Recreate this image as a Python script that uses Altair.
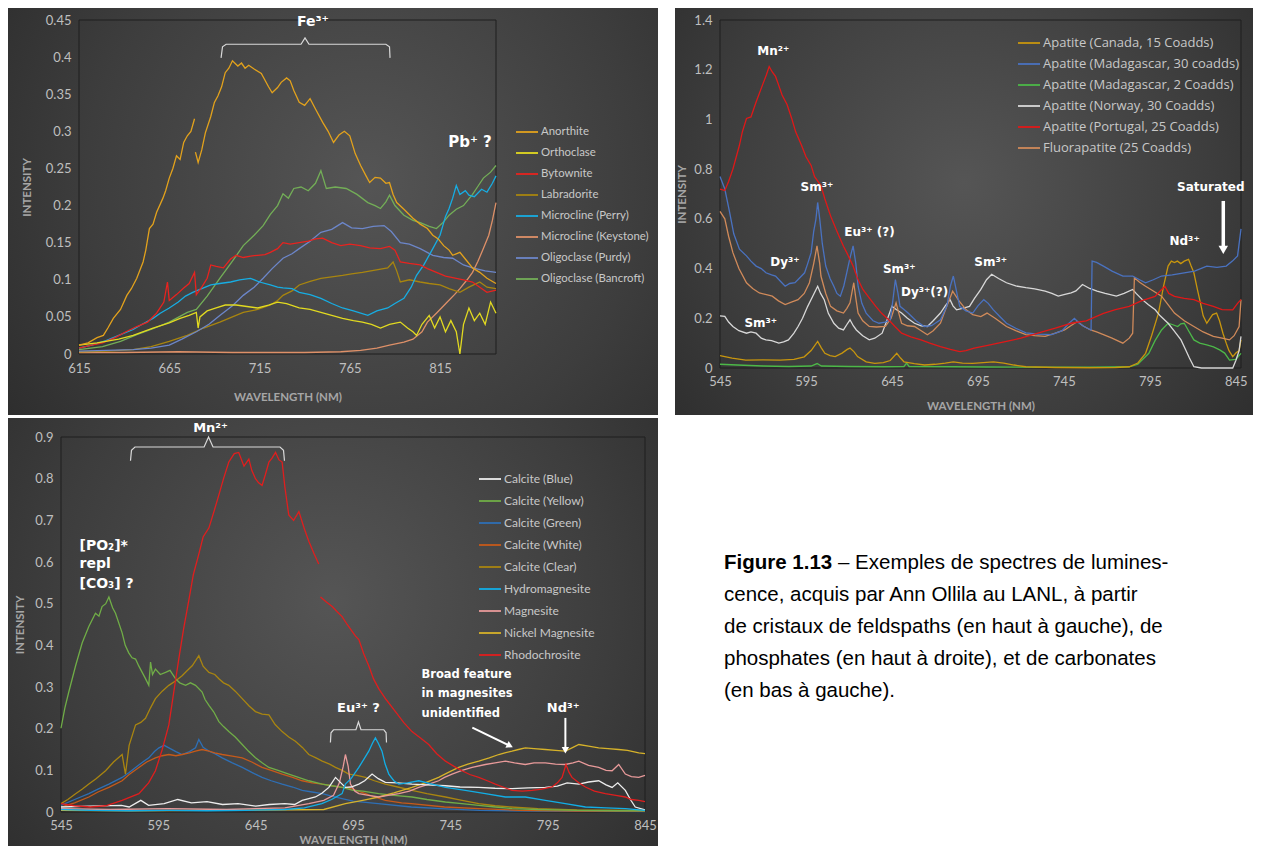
import altair as alt
import pandas as pd

LABEL_FONT = "Lato"
ANNOT_FONT = "DejaVu Sans"
CAPTION_FONT = "Liberation Sans"

# ======================= Panel 1 : feldspars =======================
P1_NAMES = ["Anorthite", "Orthoclase", "Bytownite", "Labradorite", "Microcline (Perry)",
            "Microcline (Keystone)", "Oligoclase (Purdy)", "Oligoclase (Bancroft)"]
P1_COLORS = ["#E3A21C", "#E2DA20", "#E8231F", "#A8850F", "#17ADE3", "#DE9068", "#6C86C9", "#73AE57"]
P1_DRAW = ["Microcline (Keystone)", "Labradorite", "Oligoclase (Purdy)", "Oligoclase (Bancroft)",
           "Microcline (Perry)", "Bytownite", "Orthoclase", "Anorthite"]
P1_X_TICKS = [615, 665, 715, 765, 815]
P1_Y_TICKS = [0, 0.05, 0.1, 0.15, 0.2, 0.25, 0.3, 0.35, 0.4, 0.45]

ANORTHITE_A = [(615, 0.012), (620, 0.015), (625, 0.022), (628.5, 0.025), (631, 0.035), (634, 0.048), (638, 0.06),
               (641.5, 0.079), (644, 0.088), (647, 0.102), (650.5, 0.124), (652, 0.14), (654, 0.169), (656, 0.175),
               (658, 0.191), (661.5, 0.21), (663, 0.22), (665, 0.237), (667, 0.25), (669, 0.267), (671, 0.262),
               (673, 0.285), (675, 0.294), (677, 0.30), (679, 0.317)]
ANORTHITE_B = [(679.5, 0.272), (681, 0.258), (683, 0.275), (685, 0.298), (688, 0.32), (690, 0.339), (692, 0.348),
               (694, 0.36), (696, 0.379), (698, 0.385), (700, 0.395), (703, 0.388), (705, 0.392), (707, 0.385),
               (709, 0.389), (712, 0.384), (716, 0.378), (720, 0.36), (722, 0.352), (725, 0.359), (727, 0.366),
               (730, 0.372), (732, 0.368), (734, 0.355), (737, 0.339), (740, 0.335), (743, 0.344), (746, 0.33),
               (750, 0.312), (753, 0.30), (756, 0.285), (759, 0.295), (762, 0.30), (765, 0.294), (768, 0.27),
               (771, 0.254), (774, 0.24), (776, 0.231), (779, 0.238), (782, 0.237), (785, 0.23), (787, 0.231),
               (789, 0.215), (791, 0.204), (795, 0.195), (800, 0.183), (804, 0.175), (808, 0.169), (811, 0.16),
               (814, 0.155), (817, 0.146), (820, 0.14), (822, 0.133), (826, 0.137), (829, 0.128), (833, 0.116),
               (837, 0.11), (841, 0.102), (846, 0.095)]
ORTHOCLASE = [(615, 0.012), (625, 0.015), (637, 0.02), (645, 0.025), (656, 0.035), (665, 0.042), (671, 0.048),
              (676, 0.052), (680, 0.056), (681, 0.035), (682, 0.05), (686, 0.058), (691, 0.062), (696, 0.066),
              (702, 0.066), (708, 0.064), (714, 0.062), (720, 0.066), (725, 0.07), (730, 0.068), (737, 0.062),
              (743, 0.06), (749, 0.056), (755, 0.052), (761, 0.048), (767, 0.045), (772, 0.043), (777, 0.04),
              (782, 0.035), (787, 0.04), (793, 0.043), (797, 0.035), (800, 0.03), (802, 0.025), (805, 0.04),
              (809, 0.052), (812, 0.035), (815, 0.05), (818, 0.03), (821, 0.045), (824, 0.03), (826, 0.0),
              (828, 0.04), (831, 0.062), (834, 0.045), (837, 0.055), (840, 0.04), (843, 0.07), (846, 0.055)]
BYTOWNITE = [(615, 0.008), (622, 0.012), (628, 0.015), (635, 0.022), (641, 0.03), (647, 0.037), (653, 0.043),
             (658, 0.055), (662, 0.07), (664, 0.097), (665, 0.072), (669, 0.08), (673, 0.089), (676, 0.095),
             (679, 0.11), (680, 0.08), (683, 0.09), (686, 0.102), (688, 0.12), (691, 0.118), (695, 0.116),
             (699, 0.128), (702, 0.133), (706, 0.13), (710, 0.132), (714, 0.133), (718, 0.134), (721, 0.137),
             (725, 0.142), (728, 0.15), (732, 0.148), (737, 0.15), (742, 0.152), (746, 0.155), (750, 0.156),
             (755, 0.15), (760, 0.146), (765, 0.148), (771, 0.146), (776, 0.143), (782, 0.142), (787, 0.145),
             (790, 0.14), (793, 0.124), (798, 0.122), (804, 0.12), (808, 0.115), (813, 0.11), (818, 0.105),
             (824, 0.102), (828, 0.1), (833, 0.097), (837, 0.09), (841, 0.083), (846, 0.086)]
LABRADORITE = [(615, 0.003), (630, 0.004), (645, 0.006), (655, 0.01), (665, 0.017), (675, 0.025), (684, 0.035),
               (693, 0.043), (700, 0.05), (706, 0.056), (714, 0.06), (721, 0.066), (725, 0.072), (728, 0.079),
               (733, 0.085), (737, 0.093), (743, 0.098), (749, 0.102), (755, 0.104), (761, 0.106), (766, 0.108),
               (772, 0.11), (779, 0.113), (786, 0.116), (789, 0.124), (791, 0.112), (793, 0.097), (798, 0.1),
               (804, 0.097), (809, 0.095), (815, 0.093), (820, 0.088), (826, 0.083), (831, 0.09), (837, 0.097),
               (841, 0.09), (846, 0.088)]
MICROCLINE_PERRY = [(615, 0.008), (622, 0.012), (630, 0.018), (637, 0.025), (645, 0.033), (650, 0.04), (656, 0.048),
                    (660, 0.055), (665, 0.062), (670, 0.07), (674, 0.078), (678, 0.083), (683, 0.088), (688, 0.093),
                    (693, 0.095), (699, 0.097), (704, 0.1), (710, 0.102), (715, 0.097), (721, 0.093), (725, 0.09),
                    (728, 0.089), (733, 0.088), (737, 0.083), (743, 0.08), (749, 0.075), (755, 0.068), (761, 0.062),
                    (767, 0.058), (775, 0.052), (780, 0.058), (786, 0.062), (790, 0.068), (795, 0.075), (799, 0.09),
                    (802, 0.106), (806, 0.12), (811, 0.142), (815, 0.16), (818, 0.185), (820, 0.196), (822, 0.21),
                    (824, 0.227), (826, 0.215), (829, 0.22), (831, 0.214), (834, 0.212), (838, 0.222), (841, 0.218),
                    (844, 0.23), (846, 0.24)]
MICROCLINE_KEYSTONE = [(615, 0.002), (640, 0.002), (670, 0.003), (700, 0.002), (740, 0.002), (760, 0.003),
                       (771, 0.005), (780, 0.008), (787, 0.012), (795, 0.016), (800, 0.02), (805, 0.03), (808, 0.043),
                       (813, 0.055), (819, 0.07), (823, 0.08), (826, 0.088), (830, 0.1), (833, 0.11), (836, 0.125),
                       (839, 0.142), (842, 0.16), (844, 0.18), (846, 0.204)]
OLIGOCLASE_PURDY = [(615, 0.004), (630, 0.005), (645, 0.006), (655, 0.008), (665, 0.012), (672, 0.02), (680, 0.03),
                    (687, 0.04), (693, 0.052), (700, 0.065), (706, 0.079), (712, 0.09), (717, 0.102), (722, 0.115),
                    (728, 0.129), (733, 0.135), (737, 0.142), (743, 0.152), (749, 0.164), (755, 0.168), (761, 0.177),
                    (766, 0.17), (772, 0.169), (778, 0.172), (784, 0.173), (788, 0.165), (793, 0.15), (798, 0.148),
                    (804, 0.142), (811, 0.133), (817, 0.13), (822, 0.129), (828, 0.12), (833, 0.116), (840, 0.112),
                    (846, 0.11)]
OLIGOCLASE_BANCROFT = [(615, 0.006), (628, 0.01), (638, 0.017), (647, 0.026), (656, 0.034), (665, 0.043), (675, 0.056),
                       (680, 0.06), (686, 0.078), (693, 0.102), (700, 0.125), (706, 0.146), (712, 0.16), (717, 0.173),
                       (721, 0.188), (725, 0.2), (728, 0.216), (731, 0.21), (734, 0.223), (738, 0.225), (742, 0.22),
                       (746, 0.23), (749, 0.247), (752, 0.223), (757, 0.225), (763, 0.223), (769, 0.215), (775, 0.204),
                       (779, 0.2), (782, 0.196), (785, 0.205), (787, 0.214), (790, 0.2), (795, 0.187), (800, 0.18),
                       (804, 0.177), (809, 0.172), (813, 0.169), (817, 0.178), (820, 0.187), (824, 0.195), (828, 0.2),
                       (833, 0.215), (836, 0.226), (839, 0.237), (843, 0.245), (846, 0.254)]
P1_SERIES = {"Anorthite": [ANORTHITE_A, ANORTHITE_B], "Orthoclase": [ORTHOCLASE], "Bytownite": [BYTOWNITE],
             "Labradorite": [LABRADORITE], "Microcline (Perry)": [MICROCLINE_PERRY],
             "Microcline (Keystone)": [MICROCLINE_KEYSTONE], "Oligoclase (Purdy)": [OLIGOCLASE_PURDY],
             "Oligoclase (Bancroft)": [OLIGOCLASE_BANCROFT]}
P1_CENTER_TEXT = [("Fe³⁺", 744.6, 0.4476, 14), ("Pb⁺ ?", 831.6, 0.285, 15)]
P1_BRACKETS = [[(693.7, 0.399), (694.5, 0.414), (696.5, 0.4173), (738, 0.4173), (740.2, 0.426), (742.4, 0.4173),
                (785, 0.4173), (787, 0.414), (787.3, 0.399)]]

# ======================= Panel 2 : apatites =======================
P2_NAMES = ["Apatite (Canada, 15 Coadds)", "Apatite (Madagascar, 30 coadds)", "Apatite (Madagascar, 2 Coadds)",
            "Apatite (Norway, 30 Coadds)", "Apatite (Portugal, 25 Coadds)", "Fluorapatite (25 Coadds)"]
P2_COLORS = ["#C8960E", "#4A72C0", "#4CB848", "#D8D8D8", "#E01818", "#D08A5A"]
P2_DRAW = ["Apatite (Madagascar, 2 Coadds)", "Apatite (Canada, 15 Coadds)", "Apatite (Norway, 30 Coadds)",
           "Fluorapatite (25 Coadds)", "Apatite (Madagascar, 30 coadds)", "Apatite (Portugal, 25 Coadds)"]
P2_X_TICKS = [545, 595, 645, 695, 745, 795, 845]
P2_Y_TICKS = [0, 0.2, 0.4, 0.6, 0.8, 1, 1.2, 1.4]

PORTUGAL = [(545, 0.72), (547.8, 0.714), (550, 0.75), (552.5, 0.80), (556.3, 0.896), (558, 0.95), (560.4, 1.004),
            (563, 1.01), (566, 1.07), (569.8, 1.14), (572, 1.18), (573.6, 1.213), (575.5, 1.19), (577.3, 1.173),
            (579, 1.14), (581.1, 1.098), (584, 1.06), (586.7, 1.004), (589, 0.95), (592.4, 0.896), (595, 0.85),
            (598, 0.815), (600, 0.77), (603.7, 0.734), (606, 0.68), (609.3, 0.612), (613, 0.55), (616.8, 0.49),
            (619, 0.46), (622.4, 0.41), (625, 0.36), (628.1, 0.316), (632, 0.28), (635.6, 0.248), (639, 0.22),
            (643.1, 0.194), (647, 0.165), (650.6, 0.14), (656, 0.125), (661.9, 0.113), (667, 0.1), (673.2, 0.086),
            (679, 0.075), (684.4, 0.066), (688, 0.07), (692.8, 0.08), (700, 0.09), (711.6, 0.107), (720, 0.12),
            (730.4, 0.141), (740, 0.16), (749.2, 0.18), (758, 0.19), (768, 0.22), (775, 0.235), (783, 0.248),
            (790, 0.27), (798, 0.288), (801, 0.31), (803.7, 0.329), (806, 0.30), (809.3, 0.288), (815, 0.28),
            (820.6, 0.275), (826, 0.26), (831.9, 0.248), (837, 0.235), (843.2, 0.234), (846, 0.26), (848, 0.275)]
MADAGASCAR_30 = [(545, 0.77), (547.8, 0.72), (550.6, 0.626), (553, 0.54), (556.3, 0.478), (560.4, 0.451), (563, 0.43),
                 (566, 0.41), (569, 0.40), (571.7, 0.383), (575, 0.375), (577.3, 0.370), (580, 0.35), (582.9, 0.329),
                 (585.5, 0.34), (588.6, 0.343), (591, 0.36), (594.2, 0.383), (596, 0.42), (598, 0.464), (599.5, 0.55),
                 (600.8, 0.599), (601.8, 0.666), (603, 0.60), (604.5, 0.50), (606.5, 0.41), (609, 0.36),
                 (611.2, 0.329), (613, 0.30), (615, 0.289), (617, 0.33), (618.7, 0.383), (620.5, 0.44),
                 (622.4, 0.491), (624, 0.42), (625.3, 0.329), (627.5, 0.26), (630, 0.221), (634, 0.19),
                 (637.5, 0.18), (641, 0.185), (644, 0.194), (645.5, 0.27), (647, 0.356), (648.5, 0.30),
                 (649.7, 0.248), (652, 0.235), (654.4, 0.221), (659, 0.19), (663.8, 0.167), (668, 0.17),
                 (673.2, 0.194), (677, 0.25), (679, 0.33), (680.7, 0.37), (682.5, 0.31), (684.4, 0.248),
                 (688, 0.23), (692, 0.221), (695, 0.25), (698.4, 0.275), (701, 0.26), (704, 0.234), (708, 0.205),
                 (711.6, 0.18), (717, 0.16), (722.9, 0.141), (730, 0.136), (737.9, 0.134), (744, 0.15), (748, 0.18),
                 (751.1, 0.2), (754, 0.18), (756.7, 0.167), (760.8, 0.153), (761.4, 0.43), (764, 0.425),
                 (768, 0.41), (773, 0.39), (779.3, 0.37), (785, 0.37), (789, 0.355), (792.5, 0.343), (797, 0.355),
                 (801.8, 0.37), (808, 0.375), (815, 0.383), (821, 0.39), (828.1, 0.41), (834, 0.405),
                 (839.4, 0.41), (843, 0.43), (846, 0.451), (848, 0.56)]
FLUORAPATITE = [(545, 0.63), (547.8, 0.6), (550, 0.53), (552.5, 0.464), (556, 0.40), (560.4, 0.343), (564, 0.32),
                (567.9, 0.302), (572, 0.295), (575.4, 0.289), (579, 0.27), (582.9, 0.255), (586.5, 0.265),
                (590.4, 0.275), (594, 0.30), (597, 0.343), (599.5, 0.42), (601.4, 0.491), (603, 0.42),
                (603.7, 0.370), (606.5, 0.30), (609.3, 0.248), (613, 0.23), (616.8, 0.221), (618.8, 0.24),
                (620.6, 0.262), (622.8, 0.343), (624, 0.28), (625.3, 0.221), (628, 0.19), (631.8, 0.167),
                (636, 0.165), (641.2, 0.167), (644.5, 0.2), (647.4, 0.262), (649, 0.22), (650.6, 0.18),
                (654, 0.17), (658.1, 0.167), (662, 0.15), (665.6, 0.134), (669, 0.15), (673.2, 0.18), (677, 0.25),
                (680.3, 0.309), (684, 0.27), (688.2, 0.234), (692, 0.215), (696.7, 0.207), (700.3, 0.221),
                (705, 0.2), (711.6, 0.167), (717, 0.15), (722.9, 0.134), (728, 0.13), (734.1, 0.127), (740, 0.14),
                (745.4, 0.153), (749, 0.17), (752.9, 0.187), (756, 0.17), (760.5, 0.153), (764, 0.145),
                (768, 0.134), (773, 0.12), (779.3, 0.1), (783, 0.12), (785, 0.14), (786, 0.363), (789, 0.345),
                (792.5, 0.329), (797, 0.31), (801.8, 0.289), (805, 0.26), (809.3, 0.221), (815, 0.19),
                (820.6, 0.167), (826, 0.145), (831.9, 0.127), (837, 0.12), (841.3, 0.113), (844, 0.13),
                (846.9, 0.167), (848, 0.275)]
NORWAY = [(545, 0.21), (547.8, 0.208), (550, 0.185), (552.5, 0.167), (556, 0.15), (560.4, 0.14), (563, 0.145),
          (566, 0.14), (569, 0.12), (571.7, 0.113), (575, 0.11), (579.2, 0.1), (582, 0.105), (584.8, 0.113),
          (588, 0.14), (590.4, 0.167), (593, 0.2), (596, 0.248), (599, 0.29), (601.8, 0.329), (603.5, 0.30),
          (605.6, 0.275), (608, 0.22), (611.2, 0.18), (614, 0.16), (616.8, 0.153), (618.8, 0.175), (620.6, 0.194),
          (622.5, 0.17), (624.3, 0.153), (628, 0.13), (631.8, 0.113), (635, 0.12), (639.3, 0.14), (642, 0.19),
          (645, 0.248), (647.5, 0.235), (650.6, 0.221), (654, 0.2), (658.1, 0.18), (662, 0.17), (665.6, 0.167),
          (669, 0.19), (673.2, 0.221), (676, 0.25), (678.8, 0.275), (680.5, 0.25), (682.6, 0.234), (686, 0.24),
          (690.1, 0.248), (693, 0.28), (696.7, 0.316), (700, 0.355), (703, 0.377), (707, 0.36), (711.6, 0.343),
          (717, 0.33), (722.9, 0.323), (728, 0.318), (734.1, 0.309), (738, 0.3), (741.7, 0.289), (745, 0.295),
          (749.2, 0.302), (752, 0.31), (755.8, 0.336), (760, 0.32), (764.3, 0.309), (769, 0.3), (775.5, 0.289),
          (780, 0.3), (785, 0.316), (787, 0.3), (790.6, 0.275), (794, 0.255), (798.1, 0.234), (801, 0.21),
          (805.6, 0.18), (809, 0.15), (813.1, 0.113), (816, 0.07), (818, 0.04), (820.6, 0.005), (825, 0.0),
          (835, 0.0), (843.2, 0.0), (845, 0.03), (846.9, 0.07), (848, 0.127)]
CANADA = [(545, 0.05), (547.8, 0.046), (552, 0.04), (560, 0.032), (570, 0.033), (580, 0.032), (588, 0.035),
          (594, 0.045), (598, 0.07), (601.8, 0.107), (604, 0.08), (606, 0.059), (609, 0.05), (612, 0.046),
          (616, 0.06), (619, 0.075), (620.6, 0.08), (623, 0.065), (625, 0.046), (630, 0.025), (635, 0.019),
          (640, 0.022), (644, 0.03), (647.8, 0.059), (650, 0.04), (652, 0.025), (658, 0.018), (664, 0.012),
          (670, 0.015), (676, 0.02), (680.7, 0.025), (686, 0.02), (692, 0.019), (698, 0.022), (704, 0.025),
          (710, 0.02), (716, 0.012), (722.9, 0.005), (740, 0.002), (760, 0.001), (775, 0.002), (783, 0.005),
          (788, 0.02), (792.5, 0.059), (796, 0.13), (800, 0.221), (803, 0.33), (805.6, 0.41), (807.5, 0.43),
          (809.3, 0.424), (811, 0.43), (813, 0.42), (815, 0.43), (817.5, 0.437), (819, 0.41), (820.6, 0.383),
          (822.5, 0.32), (824.4, 0.262), (826, 0.21), (828.1, 0.18), (830, 0.2), (831.5, 0.215), (833.8, 0.221),
          (835.5, 0.19), (837.5, 0.14), (839.4, 0.1), (841, 0.07), (843.2, 0.046), (845, 0.06), (846.9, 0.07),
          (848, 0.113)]
MADAGASCAR_2 = [(545, 0.015), (555, 0.012), (570, 0.008), (585, 0.006), (598, 0.008), (601.5, 0.018), (604, 0.008),
                (620, 0.006), (640, 0.005), (652, 0.006), (653.5, 0.02), (655, 0.006), (680, 0.005), (700, 0.004),
                (730, 0.003), (760, 0.003), (783, 0.005), (788, 0.015), (794.4, 0.059), (798, 0.11),
                (801.8, 0.153), (805.6, 0.18), (808, 0.175), (811.2, 0.167), (813, 0.178), (815, 0.18),
                (817.5, 0.15), (820.6, 0.113), (824, 0.1), (828.1, 0.093), (832, 0.085), (835.6, 0.073),
                (838.5, 0.06), (841.3, 0.032), (845, 0.035), (848, 0.059)]
P2_SERIES = {"Apatite (Canada, 15 Coadds)": [CANADA], "Apatite (Madagascar, 30 coadds)": [MADAGASCAR_30],
             "Apatite (Madagascar, 2 Coadds)": [MADAGASCAR_2], "Apatite (Norway, 30 Coadds)": [NORWAY],
             "Apatite (Portugal, 25 Coadds)": [PORTUGAL], "Fluorapatite (25 Coadds)": [FLUORAPATITE]}
P2_CENTER_TEXT = [("Mn²⁺", 576, 1.275, 12), ("Sm³⁺", 601.4, 0.729, 12), ("Eu³⁺ (?)", 631.9, 0.547, 12),
                  ("Dy³⁺", 582.8, 0.425, 12), ("Sm³⁺", 649.3, 0.40, 12), ("Dy³⁺(?)", 664, 0.304, 12),
                  ("Sm³⁺", 568.7, 0.182, 12), ("Sm³⁺", 702.4, 0.425, 12), ("Nd³⁺", 815.2, 0.51, 12),
                  ("Saturated", 830.4, 0.729, 12)]
P2_ARROWS = [(837.7, 0.672, 837.7, 0.475, 180, 90, 3.5)]

# ======================= Panel 3 : carbonates =======================
P3_NAMES = ["Calcite (Blue)", "Calcite (Yellow)", "Calcite (Green)", "Calcite (White)", "Calcite (Clear)",
            "Hydromagnesite", "Magnesite", "Nickel Magnesite", "Rhodochrosite"]
P3_COLORS = ["#EDEDED", "#70AD47", "#2E6FB5", "#C65A1A", "#A98510", "#12AEE6", "#E89A9A", "#D6B22A", "#E01E1E"]
P3_DRAW = ["Calcite (Green)", "Calcite (White)", "Calcite (Clear)", "Calcite (Yellow)", "Nickel Magnesite",
           "Magnesite", "Calcite (Blue)", "Hydromagnesite", "Rhodochrosite"]
P3_X_TICKS = [545, 595, 645, 695, 745, 795, 845]
P3_Y_TICKS = [0, 0.1, 0.2, 0.3, 0.4, 0.5, 0.6, 0.7, 0.8, 0.9]

RHODO_A = [(545, 0.02), (552, 0.015), (560, 0.012), (568, 0.015), (576.4, 0.028), (585, 0.044), (590, 0.07),
           (593.5, 0.099), (597, 0.15), (600.4, 0.209), (603, 0.29), (605.5, 0.367), (608, 0.44), (610.7, 0.509),
           (613, 0.57), (615.8, 0.619), (618, 0.66), (621, 0.682), (623.5, 0.72), (626.1, 0.761), (628.5, 0.8),
           (631.2, 0.84), (634, 0.86), (636.3, 0.863), (639, 0.83), (641.5, 0.847), (643, 0.82), (644.9, 0.8),
           (646.5, 0.79), (648.3, 0.784), (650, 0.81), (651.8, 0.84), (653.5, 0.85), (655.2, 0.863), (657, 0.845),
           (658.6, 0.84), (660, 0.78), (662, 0.713), (664.5, 0.70), (667.2, 0.721), (670, 0.68), (672.3, 0.65),
           (675, 0.62), (677.4, 0.595)]
RHODO_B = [(678.3, 0.516), (681, 0.505), (684.3, 0.493), (687, 0.48), (689.4, 0.469), (692, 0.45), (696.3, 0.422),
           (698, 0.414), (700.5, 0.38), (703.1, 0.351), (705.5, 0.32), (708.2, 0.296), (712, 0.27), (716.8, 0.241),
           (721, 0.215), (725.3, 0.193), (729.5, 0.178), (733.9, 0.162), (738, 0.14), (742.5, 0.122),
           (746.7, 0.11), (751, 0.099), (755, 0.09), (759.6, 0.083), (764, 0.075), (768.1, 0.067), (772, 0.06),
           (776.7, 0.052), (782, 0.05), (787, 0.052), (792, 0.055), (797.2, 0.06), (800, 0.07), (802.4, 0.083),
           (804.4, 0.114), (806, 0.095), (807.5, 0.083), (811, 0.07), (814.4, 0.06), (819, 0.05), (824.6, 0.044),
           (830, 0.04), (834.9, 0.036), (838, 0.03), (841.8, 0.028), (845, 0.025)]
CALCITE_YELLOW = [(545, 0.201), (547, 0.25), (549, 0.288), (552.5, 0.351), (555.9, 0.406), (559.3, 0.445),
                  (562.7, 0.477), (564.5, 0.47), (566.1, 0.493), (568, 0.50), (569.6, 0.516), (571.5, 0.49),
                  (573, 0.477), (576.4, 0.43), (578, 0.40), (579.8, 0.382), (581.5, 0.37), (583.3, 0.367),
                  (585, 0.35), (586.7, 0.335), (588.4, 0.32), (590.1, 0.304), (591, 0.36), (592, 0.33),
                  (593.5, 0.343), (596, 0.33), (598.7, 0.335), (601, 0.34), (603.8, 0.32), (606, 0.31),
                  (609, 0.304), (611.5, 0.31), (614.1, 0.304), (617.5, 0.288), (619, 0.27), (621, 0.256),
                  (623.5, 0.24), (626.1, 0.217), (628.5, 0.205), (631.2, 0.193), (634.5, 0.18), (638.1, 0.162),
                  (641.5, 0.145), (644.9, 0.13), (648.3, 0.118), (651.8, 0.107), (656.5, 0.1), (662, 0.091),
                  (667, 0.083), (672.3, 0.075), (679.2, 0.067), (684, 0.063), (689.4, 0.059), (695, 0.052),
                  (700, 0.05), (708.2, 0.044), (716, 0.04), (725.3, 0.036), (733, 0.03), (742.5, 0.024),
                  (751, 0.02), (759.6, 0.016), (768, 0.012), (776.7, 0.008), (790, 0.006), (810, 0.004),
                  (830, 0.003), (845, 0.003)]
CALCITE_GREEN = [(545, 0.016), (552, 0.03), (559.3, 0.044), (564, 0.055), (569.6, 0.067), (576.4, 0.083), (580, 0.095),
                 (583.3, 0.107), (587, 0.12), (590.1, 0.13), (593, 0.145), (595.3, 0.154), (598, 0.16),
                 (600.4, 0.154), (604, 0.145), (607.2, 0.138), (611, 0.145), (614.1, 0.154), (615.8, 0.174),
                 (618, 0.155), (621, 0.146), (624, 0.14), (627.8, 0.13), (633, 0.118), (638.1, 0.107), (643, 0.095),
                 (648.3, 0.083), (653, 0.075), (658.6, 0.067), (664, 0.06), (668.9, 0.052), (674, 0.048),
                 (679.2, 0.044), (684, 0.038), (689.4, 0.032), (695, 0.026), (708, 0.02), (725, 0.012), (740, 0.008),
                 (760, 0.004), (790, 0.002), (845, 0.001)]
CALCITE_WHITE = [(545, 0.012), (552, 0.022), (559.3, 0.036), (564, 0.048), (569.6, 0.059), (576.4, 0.075), (580, 0.09),
                 (585, 0.107), (589, 0.12), (593.5, 0.13), (597, 0.135), (600.4, 0.138), (604, 0.135),
                 (607.2, 0.138), (611, 0.142), (614.1, 0.146), (617.5, 0.15), (621, 0.146), (624, 0.142),
                 (627.8, 0.138), (633, 0.134), (638.1, 0.13), (643, 0.12), (648.3, 0.107), (653, 0.1),
                 (658.6, 0.091), (664, 0.083), (668.9, 0.075), (674, 0.07), (679.2, 0.067), (684, 0.063),
                 (689.4, 0.059), (694, 0.056), (701.4, 0.044), (706, 0.036), (711.6, 0.028), (720, 0.022),
                 (725, 0.02), (742, 0.012), (760, 0.008), (780, 0.004), (810, 0.002), (845, 0.002)]
CALCITE_CLEAR = [(545, 0.02), (548.5, 0.03), (552.5, 0.044), (556, 0.055), (559.3, 0.067), (563, 0.08),
                 (567.9, 0.099), (572, 0.12), (576.4, 0.138), (578.1, 0.091), (580, 0.16), (583.3, 0.209),
                 (586, 0.215), (588.4, 0.225), (591, 0.25), (593.5, 0.272), (597, 0.29), (600.4, 0.304),
                 (604, 0.315), (607.2, 0.327), (610, 0.34), (612.4, 0.351), (615.8, 0.375), (618, 0.35),
                 (621, 0.335), (624, 0.33), (626.1, 0.32), (628.5, 0.31), (631.2, 0.304), (634.5, 0.29),
                 (638.1, 0.272), (641.5, 0.255), (644.9, 0.241), (648.3, 0.235), (651.8, 0.233), (655, 0.21),
                 (658.6, 0.193), (662, 0.18), (665.4, 0.17), (669, 0.155), (672.3, 0.138), (676, 0.13),
                 (679.2, 0.122), (683, 0.115), (686, 0.107), (689.5, 0.1), (692.8, 0.091), (697, 0.088),
                 (701.4, 0.083), (706, 0.075), (711.6, 0.067), (718, 0.06), (725.3, 0.052), (733, 0.044),
                 (742.5, 0.036), (751, 0.028), (759.6, 0.02), (768, 0.015), (776, 0.012), (790, 0.008),
                 (810, 0.005), (845, 0.004)]
CALCITE_BLUE = [(545, 0.012), (560, 0.014), (576, 0.016), (580, 0.012), (586, 0.028), (590, 0.016), (598, 0.02),
                (605, 0.03), (612, 0.022), (620, 0.025), (628, 0.018), (636, 0.02), (645, 0.014), (652, 0.018),
                (660, 0.02), (665, 0.018), (668.9, 0.028), (675.7, 0.036), (679, 0.045), (682.6, 0.059), (686, 0.083),
                (689.4, 0.067), (691.1, 0.059), (694, 0.06), (698, 0.067), (701, 0.075), (704.8, 0.091), (708, 0.08),
                (711.6, 0.071), (718, 0.07), (725.3, 0.067), (733, 0.065), (742.5, 0.063), (750, 0.06),
                (759.6, 0.059), (768, 0.057), (776.7, 0.056), (785, 0.058), (793.8, 0.059), (800, 0.062),
                (805, 0.07), (811, 0.067), (816, 0.072), (821.2, 0.075), (825, 0.065), (828.1, 0.059), (831, 0.07),
                (834.9, 0.052), (837.5, 0.03), (840, 0.012), (845, 0.005)]
HYDROMAGNESITE = [(545, 0.006), (560, 0.004), (580, 0.003), (600, 0.004), (620, 0.003), (640, 0.004), (660, 0.006),
                  (670, 0.01), (679, 0.02), (684, 0.03), (689.4, 0.044), (691.1, 0.067), (694, 0.08), (698, 0.107),
                  (701, 0.13), (703.1, 0.146), (705, 0.165), (706.5, 0.178), (708, 0.165), (709.9, 0.146),
                  (711.5, 0.115), (713.4, 0.091), (716, 0.075), (718.5, 0.067), (723, 0.07), (728.8, 0.075),
                  (735.6, 0.067), (742.5, 0.059), (752.7, 0.052), (763, 0.044), (773.3, 0.036), (783.5, 0.036),
                  (793.8, 0.028), (804.1, 0.02), (814.4, 0.012), (825, 0.01), (835, 0.008), (845, 0.004)]
MAGNESITE = [(545, 0.008), (570, 0.006), (600, 0.008), (630, 0.006), (660, 0.01), (672.3, 0.02), (680, 0.028),
             (685, 0.04), (688, 0.07), (690, 0.11), (691.1, 0.138), (692.5, 0.11), (693.7, 0.067), (696, 0.05),
             (698, 0.044), (703, 0.04), (708.2, 0.036), (713, 0.04), (718.5, 0.044), (724, 0.05), (728.8, 0.059),
             (734, 0.067), (739, 0.075), (742, 0.083), (745.9, 0.091), (751, 0.1), (756.2, 0.107), (763, 0.114),
             (768, 0.118), (773.3, 0.122), (778, 0.118), (783.5, 0.114), (788, 0.118), (793.8, 0.118),
             (799, 0.115), (804.1, 0.114), (808, 0.118), (811, 0.122), (816, 0.112), (821.2, 0.107), (825, 0.1),
             (828.1, 0.099), (831.5, 0.114), (834.9, 0.091), (838, 0.085), (841.8, 0.083), (845, 0.088)]
NICKEL_MAGNESITE = [(545, 0.004), (580, 0.003), (620, 0.004), (660, 0.005), (680, 0.006), (691.1, 0.02), (700, 0.028),
                    (708.2, 0.036), (716, 0.046), (725.3, 0.059), (732, 0.07), (739, 0.083), (744, 0.095),
                    (749.3, 0.107), (754, 0.115), (759.6, 0.122), (765, 0.13), (769.9, 0.138), (773, 0.142),
                    (776.7, 0.146), (780, 0.15), (783.5, 0.154), (788, 0.152), (793.8, 0.15), (799, 0.148),
                    (804.1, 0.146), (808, 0.155), (811, 0.162), (816, 0.158), (821.2, 0.154), (826, 0.152),
                    (831.5, 0.15), (836, 0.148), (841.8, 0.142), (845, 0.14)]
P3_SERIES = {"Calcite (Blue)": [CALCITE_BLUE], "Calcite (Yellow)": [CALCITE_YELLOW], "Calcite (Green)": [CALCITE_GREEN],
             "Calcite (White)": [CALCITE_WHITE], "Calcite (Clear)": [CALCITE_CLEAR], "Hydromagnesite": [HYDROMAGNESITE],
             "Magnesite": [MAGNESITE], "Nickel Magnesite": [NICKEL_MAGNESITE], "Rhodochrosite": [RHODO_A, RHODO_B]}
P3_CENTER_TEXT = [("Mn²⁺", 621.8, 0.922, 13), ("Eu³⁺ ?", 697.8, 0.249, 13), ("Nd³⁺", 803, 0.249, 13)]
P3_LEFT_TEXT = [("[PO₂]*", 554.5, 0.6395, 14), ("repl", 554.5, 0.5946, 14), ("[CO₃] ?", 554.5, 0.547, 14),
                ("Broad feature", 730.2, 0.330, 11.5), ("in magnesites", 730.2, 0.283, 11.5),
                ("unidentified", 730.2, 0.236, 11.5)]
P3_BRACKETS = [[(580.7, 0.843), (581.2, 0.868), (583, 0.876), (618.5, 0.876), (620.8, 0.9), (623.1, 0.876),
                (657.5, 0.876), (659.3, 0.868), (659.8, 0.843)],
               [(683.4, 0.1667), (683.7, 0.19), (685, 0.1974), (696.5, 0.1974), (697.8, 0.216), (699.1, 0.1974),
                (710.8, 0.1974), (712, 0.19), (712.2, 0.1667)]]
P3_ARROWS = [(756.3, 0.2027, 775.6, 0.159, 116, 55, 2), (804.1, 0.2258, 804.1, 0.148, 180, 55, 2)]

CAPTION_BOLD = "Figure 1.13"
CAPTION_FIRST = "– Exemples de spectres de lumines-"
CAPTION_REST = ["cence, acquis par Ann Ollila au LANL, à partir",
                "de cristaux de feldspaths (en haut à gauche), de",
                "phosphates (en haut à droite), et de carbonates",
                "(en bas à gauche)."]


def build(series, order):
    rows = []
    for name in order:
        for k, part in enumerate(series[name]):
            for x, y in part:
                rows.append({"s": name, "part": f"{name}#{k}", "nm": x, "v": y})
    return pd.DataFrame(rows)


def gradient(cx, cy):
    return alt.RadialGradient(
        gradient="radial",
        stops=[alt.GradientStop(color="#555555", offset=0), alt.GradientStop(color="#3d3d3d", offset=0.55),
               alt.GradientStop(color="#262626", offset=1)],
        x1=cx, y1=cy, x2=cx, y2=cy, r1=0, r2=0.78)


def panel(series, order, names, colors, xdom, xrange, xticks, ydom, yticks, w, h, box, grad_c,
          legend_xy, legend_rowpad, legend_fs, legend_font, ytp, xlp, xtp,
          center_text=(), left_text=(), brackets=(), arrows=()):
    X = alt.X("nm:Q", scale=alt.Scale(domain=xdom, range=xrange, nice=False, zero=False),
              axis=alt.Axis(values=xticks, title="WAVELENGTH (NM)", labelPadding=xlp, titlePadding=xtp,
                            labelFlush=False, zindex=1))
    Y = alt.Y("v:Q", scale=alt.Scale(domain=ydom, nice=False, zero=False),
              axis=alt.Axis(values=yticks, format="~g", title="INTENSITY", labelPadding=8, titlePadding=ytp,
                            labelFlush=False, offset=-xrange[0], zindex=1))
    one = pd.DataFrame({"k": [0]})
    layers = []
    layers.append(alt.Chart(one).mark_rect(fill=gradient(*grad_c)).encode(
        x=alt.value(box[0]), x2=alt.value(box[1]), y=alt.value(box[2]), y2=alt.value(box[3])))
    layers.append(alt.Chart(one).mark_rect(filled=False, stroke="#1e1e1e", strokeWidth=1).encode(
        x=alt.value(xrange[0]), x2=alt.value(xrange[1]), y=alt.value(0), y2=alt.value(h)))
    df = build(series, order)
    layers.append(alt.Chart(df).mark_line(strokeWidth=1.3).encode(
        x=X, y=Y,
        color=alt.Color("s:N", scale=alt.Scale(domain=names, range=colors), sort=names,
                        legend=alt.Legend(orient="none", legendX=legend_xy[0], legendY=legend_xy[1], title=None,
                                          symbolType="stroke", symbolSize=484, symbolStrokeWidth=1.8,
                                          labelColor="#C8C8C8", labelFont=legend_font, labelFontSize=legend_fs,
                                          labelLimit=400, rowPadding=legend_rowpad, labelOffset=2, padding=0)),
        detail="part:N"))
    if brackets:
        br = pd.DataFrame([{"b": i, "o": j, "nm": x, "v": y}
                           for i, b in enumerate(brackets) for j, (x, y) in enumerate(b)])
        layers.append(alt.Chart(br).mark_line(color="#D9D9D9", strokeWidth=1.2).encode(
            x=X, y=Y, detail="b:N", order="o:Q"))
    if arrows:
        ar = pd.DataFrame([{"nm": a[0], "v": a[1], "nm2": a[2], "v2": a[3], "ang": a[4], "sz": a[5], "sw": a[6]}
                           for a in arrows])
        layers.append(alt.Chart(ar).mark_rule(color="white").encode(
            x=X, y=Y, x2="nm2:Q", y2="v2:Q", strokeWidth=alt.StrokeWidth("sw:Q", scale=None)))
        heads = ar.rename(columns={"nm": "x0", "v": "y0"}).rename(columns={"nm2": "nm", "v2": "v"})
        layers.append(alt.Chart(heads).mark_point(shape="triangle-up", filled=True, color="white", opacity=1).encode(
            x=X, y=Y, angle=alt.Angle("ang:Q", scale=None), size=alt.Size("sz:Q", scale=None)))
    if center_text:
        ct = pd.DataFrame([{"t": t, "nm": x, "v": y, "fs": fs} for t, x, y, fs in center_text])
        layers.append(alt.Chart(ct).mark_text(color="white", font=ANNOT_FONT, fontWeight="bold", align="center",
                                              baseline="middle").encode(
            x=X, y=Y, text="t:N", size=alt.Size("fs:Q", scale=None)))
    if left_text:
        lt = pd.DataFrame([{"t": t, "nm": x, "v": y, "fs": fs} for t, x, y, fs in left_text])
        layers.append(alt.Chart(lt).mark_text(color="white", font=ANNOT_FONT, fontWeight="bold", align="left",
                                              baseline="middle").encode(
            x=X, y=Y, text="t:N", size=alt.Size("fs:Q", scale=None)))
    return alt.layer(*layers).properties(width=w, height=h)


p1 = panel(P1_SERIES, P1_DRAW, P1_NAMES, P1_COLORS, [615, 846], [18, 435], P1_X_TICKS, [0, 0.45], P1_Y_TICKS,
           435, 334, (-53, 597, -12, 395), (0.55, 0.45), (454, 100), 3, 11.4, LABEL_FONT, 12.5, 8, 16,
           center_text=P1_CENTER_TEXT, brackets=P1_BRACKETS)
p2 = panel(P2_SERIES, P2_DRAW, P2_NAMES, P2_COLORS, [545, 848], [0, 521], P2_X_TICKS, [0, 1.4], P2_Y_TICKS,
           521, 348, (-45, 533, -12, 395), (0.5, 0.45), (297, 11), 2, 13, "Open Sans", 6, 7.5, 11.5,
           center_text=P2_CENTER_TEXT, arrows=P2_ARROWS)
p3 = panel(P3_SERIES, P3_DRAW, P3_NAMES, P3_COLORS, [545, 845], [0, 584], P3_X_TICKS, [0, 0.9], P3_Y_TICKS,
           584, 375, (-53, 597, -19, 409), (0.5, 0.45), (417, 30), 4, 12, LABEL_FONT, 9, 7.5, 1.5,
           center_text=P3_CENTER_TEXT, left_text=P3_LEFT_TEXT, brackets=P3_BRACKETS, arrows=P3_ARROWS)

cap_one = pd.DataFrame({"k": [0]})
cap = alt.layer(
    alt.Chart(cap_one).mark_text(text=CAPTION_BOLD, align="left", baseline="alphabetic", font=CAPTION_FONT,
                                 fontSize=20.5, fontWeight="bold", color="black").encode(
        x=alt.value(49), y=alt.value(132)),
    alt.Chart(cap_one).mark_text(text=CAPTION_FIRST, align="left", baseline="alphabetic", font=CAPTION_FONT,
                                 fontSize=20.5, color="black").encode(
        x=alt.value(163), y=alt.value(132)),
    alt.Chart(cap_one).mark_text(text="\n".join(CAPTION_REST), lineBreak="\n", lineHeight=32, align="left",
                                 baseline="alphabetic", font=CAPTION_FONT, fontSize=20.5, color="black").encode(
        x=alt.value(49), y=alt.value(164)),
).properties(width=540, height=300)

top = alt.hconcat(p1, p2, spacing=17).resolve_scale(color="independent")
bottom = alt.hconcat(p3, cap, spacing=17).resolve_scale(color="independent")
chart = alt.vconcat(top, bottom, spacing=3).resolve_scale(color="independent").properties(
    padding=0, background="white"
).configure_view(strokeWidth=0).configure_axis(
    zindex=1, domain=False, ticks=False, grid=False, labelColor="#BFBFBF", labelFont=LABEL_FONT,
    labelFontSize=13, titleColor="#A6A6A6", titleFont=LABEL_FONT, titleFontWeight="bold", titleFontSize=11.5
)

chart.save("out.html", embed_options={"renderer": "svg", "actions": False})
